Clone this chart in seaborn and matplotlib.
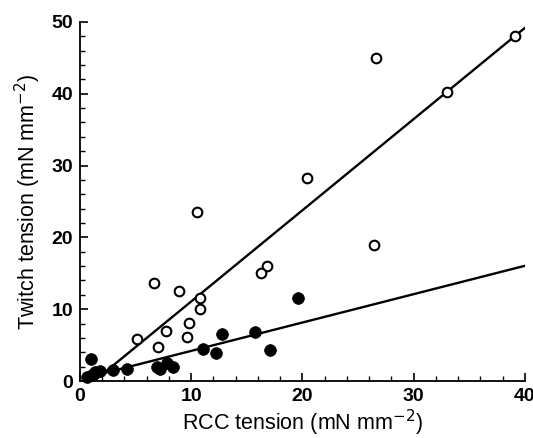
import numpy as np
import pandas as pd
import matplotlib
matplotlib.use("Agg")
import matplotlib.pyplot as plt
import seaborn as sns
from matplotlib.ticker import MultipleLocator

# open circles
open_rcc = [39.1, 26.6, 33.0, 20.4, 10.5, 26.4, 16.8, 16.3, 6.7, 8.9, 10.8,
            10.8, 9.8, 7.7, 9.6, 5.1, 7.0]
open_twitch = [48.1, 45.0, 40.3, 28.3, 23.6, 19.0, 16.0, 15.1, 13.6, 12.5, 11.5,
               10.0, 8.1, 7.0, 6.1, 5.8, 4.8]

# filled circles
filled_rcc = [1.0, 12.8, 15.7, 11.1, 12.2, 6.9, 7.2, 7.8, 8.4, 4.2, 3.0, 1.8,
              1.35, 1.1, 0.6, 19.6, 17.1]
filled_twitch = [3.1, 6.6, 6.8, 4.4, 3.9, 1.9, 1.7, 2.5, 1.9, 1.7, 1.5, 1.4,
                 1.2, 0.8, 0.6, 11.5, 4.3]

# fitted lines (slope, intercept, x range)
open_fit = (1.27, -1.62)
open_fit_x = [1.3, 40.0]
filled_fit = (0.395, 0.25)
filled_fit_x = [0.5, 40.0]

sns.set_style("ticks")
plt.rcParams['font.family'] = ['Liberation Sans', 'DejaVu Sans']
plt.rcParams['text.color'] = 'black'
plt.rcParams['axes.labelcolor'] = 'black'
plt.rcParams['xtick.color'] = 'black'
plt.rcParams['ytick.color'] = 'black'
plt.rcParams['axes.edgecolor'] = 'black'

fig = plt.figure(figsize=(5.33, 4.38), dpi=100)
ax = fig.add_axes([0.150, 0.130, 0.835, 0.820])

fx = np.array(open_fit_x)
sns.lineplot(x=fx, y=open_fit[0] * fx + open_fit[1], ax=ax, color="black", lw=1.7)
fx2 = np.array(filled_fit_x)
sns.lineplot(x=fx2, y=filled_fit[0] * fx2 + filled_fit[1], ax=ax, color="black", lw=1.7)

sns.scatterplot(x=open_rcc, y=open_twitch, ax=ax, s=48, facecolor="white",
                edgecolor="black", linewidth=1.5, zorder=3, clip_on=False)
sns.scatterplot(x=filled_rcc, y=filled_twitch, ax=ax, s=72, color="black",
                edgecolor="black", linewidth=0.5, zorder=3, clip_on=False)

ax.set_xlim(0, 40)
ax.set_ylim(0, 50)
ax.xaxis.set_major_locator(MultipleLocator(10))
ax.xaxis.set_minor_locator(MultipleLocator(2))
ax.yaxis.set_major_locator(MultipleLocator(10))
ax.yaxis.set_minor_locator(MultipleLocator(2))
ax.tick_params(which="major", direction="in", length=6, width=1.2, labelsize=14, pad=5)
ax.tick_params(which="minor", direction="in", length=3.5, width=1)
for lab in ax.get_xticklabels() + ax.get_yticklabels():
    lab.set_fontweight("bold")
for sp in ["left", "bottom"]:
    ax.spines[sp].set_linewidth(1.3)
sns.despine(ax=ax)

ax.set_xlabel(r"RCC tension (mN mm$^{-2}$)", fontsize=15.5, labelpad=2)
ax.set_ylabel(r"Twitch tension (mN mm$^{-2}$)", fontsize=15.5, labelpad=6)

fig.savefig("out.png", dpi=100)
